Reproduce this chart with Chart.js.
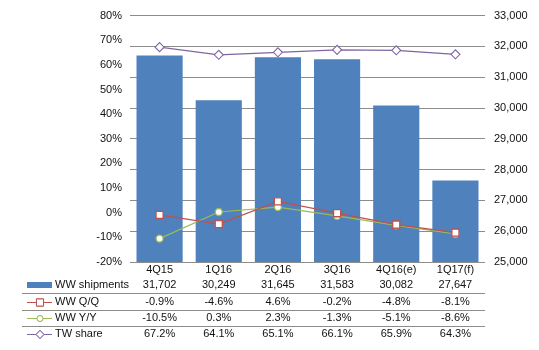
<!DOCTYPE html>
<html lang="en">
<head>
    <meta charset="UTF-8">
    <title>WW shipments</title>
    <script src="https://cdn.jsdelivr.net/npm/chart.js"></script>
    <style>
        body { margin: 0; background: #fff; }
        #wrap { width: 539px; height: 350px; }
    </style>
</head>
<body>
    <div id="wrap"><canvas id="shipChart" width="539" height="350"></canvas></div>

    <script>
        // data
        const quarters = ['4Q15', '1Q16', '2Q16', '3Q16', '4Q16(e)', '1Q17(f)'];
        const wwShipments = [31702, 30249, 31645, 31583, 30082, 27647];
        const wwQoQ = [-0.9, -4.6, 4.6, -0.2, -4.8, -8.1];
        const wwYoY = [-10.5, 0.3, 2.3, -1.3, -5.1, -8.6];
        const twShare = [67.2, 64.1, 65.1, 66.1, 65.9, 64.3];

        const FONT = 'Arial, "Liberation Sans", sans-serif';
        const BAR = '#4F81BD';
        const RED = '#C0504D';
        const GREEN = '#9BBB59';
        const PURPLE = '#8064A2';
        const GRID = '#8C8C8C';

        const rows = [
            { label: 'WW shipments', kind: 'bar', color: BAR, values: wwShipments.map(v => v.toLocaleString('en-US')) },
            { label: 'WW Q/Q', kind: 'rect', color: RED, values: wwQoQ.map(v => v.toFixed(1) + '%') },
            { label: 'WW Y/Y', kind: 'circle', color: GREEN, values: wwYoY.map(v => v.toFixed(1) + '%') },
            { label: 'TW share', kind: 'rectRot', color: PURPLE, values: twShare.map(v => v.toFixed(1) + '%') }
        ];

        // data table under the plot, columns follow the x scale
        const dataTable = {
            id: 'dataTable',
            afterDraw(chart) {
                const ctx = chart.ctx;
                const x = chart.scales.x;
                const rowY = [285, 302, 318, 334];
                const sepY = [293.5, 310.5, 326.5];
                ctx.save();
                ctx.strokeStyle = GRID;
                ctx.lineWidth = 1;
                sepY.forEach(y => {
                    ctx.beginPath();
                    ctx.moveTo(22, y);
                    ctx.lineTo(chart.chartArea.right, y);
                    ctx.stroke();
                });
                ctx.font = '11px ' + FONT;
                ctx.textBaseline = 'middle';
                rows.forEach((r, i) => {
                    const y = rowY[i];
                    // legend key
                    if (r.kind === 'bar') {
                        ctx.fillStyle = r.color;
                        ctx.fillRect(27, y - 3, 25, 6);
                    } else {
                        ctx.strokeStyle = r.color;
                        ctx.lineWidth = 1;
                        ctx.beginPath();
                        ctx.moveTo(27, y + 0.5);
                        ctx.lineTo(52, y + 0.5);
                        ctx.stroke();
                        Chart.helpers.drawPoint(ctx, {
                            pointStyle: r.kind,
                            radius: r.kind === 'rect' ? 5 : (r.kind === 'circle' ? 3 : 4),
                            borderWidth: 1
                        }, 40, y + 0.5);
                        ctx.fillStyle = '#fff';
                        ctx.fill();
                        ctx.stroke();
                    }
                    ctx.fillStyle = '#111';
                    ctx.textAlign = 'left';
                    ctx.fillText(r.label, 55, y);
                    ctx.textAlign = 'center';
                    r.values.forEach((v, j) => {
                        ctx.fillText(v, x.getPixelForValue(j), y);
                    });
                });
                ctx.restore();
            }
        };

        new Chart(document.getElementById('shipChart'), {
            data: {
                labels: quarters,
                datasets: [
                    {
                        type: 'line', label: 'WW Q/Q', data: wwQoQ, yAxisID: 'y',
                        borderColor: RED, borderWidth: 1.2, pointStyle: 'rect', pointRadius: 5,
                        pointBackgroundColor: '#fff', pointBorderColor: RED, pointBorderWidth: 1.3, order: 0
                    },
                    {
                        type: 'line', label: 'WW Y/Y', data: wwYoY, yAxisID: 'y',
                        borderColor: GREEN, borderWidth: 1.2, pointStyle: 'circle', pointRadius: 3.5,
                        pointBackgroundColor: '#fff', pointBorderColor: GREEN, pointBorderWidth: 1.3, order: 0
                    },
                    {
                        type: 'line', label: 'TW share', data: twShare, yAxisID: 'y',
                        borderColor: PURPLE, borderWidth: 1.2, pointStyle: 'rectRot', pointRadius: 4.5,
                        pointBackgroundColor: '#fff', pointBorderColor: PURPLE, pointBorderWidth: 1.1, order: 0
                    },
                    {
                        type: 'bar', label: 'WW shipments', data: wwShipments, yAxisID: 'y1',
                        backgroundColor: BAR, barPercentage: 0.78, categoryPercentage: 1.0, order: 1
                    }
                ]
            },
            options: {
                responsive: false,
                animation: false,
                layout: { padding: { top: 14, left: 0, right: 0, bottom: 0 } },
                plugins: { legend: { display: false }, tooltip: { enabled: false } },
                scales: {
                    x: {
                        grid: { display: false, drawTicks: false },
                        border: { display: false },
                        ticks: { color: '#111', font: { family: FONT, size: 11 }, padding: 1, maxRotation: 0 },
                        afterFit(s) { s.height = 88; }
                    },
                    y: {
                        position: 'left',
                        min: -20, max: 80,
                        grid: { display: false, drawTicks: false },
                        border: { display: false },
                        ticks: {
                            stepSize: 10, padding: 8, color: '#111',
                            font: { family: FONT, size: 11 },
                            callback: v => v + '%'
                        },
                        afterFit(s) { s.width = 130; }
                    },
                    y1: {
                        position: 'right',
                        min: 25000, max: 33000,
                        grid: { color: GRID, lineWidth: 1, drawTicks: false },
                        border: { display: false },
                        ticks: {
                            stepSize: 1000, padding: 9, color: '#111',
                            font: { family: FONT, size: 11 },
                            callback: v => v.toLocaleString('en-US')
                        },
                        afterFit(s) { s.width = 54; }
                    }
                }
            },
            plugins: [dataTable]
        });
    </script>
</body>
</html>
